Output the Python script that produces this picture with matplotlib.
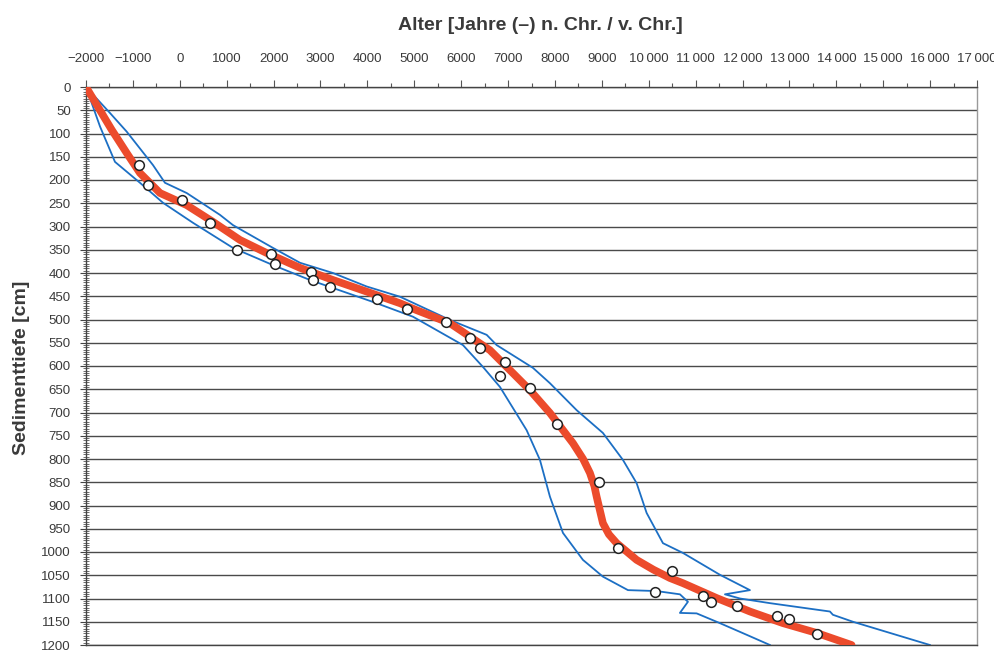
import matplotlib

matplotlib.use("Agg")
import matplotlib.pyplot as plt
from matplotlib.ticker import FixedLocator, FuncFormatter, MultipleLocator

# Datierte Proben (Alter in Jahren, Tiefe in cm)
sample_age = [-870, -680, 50, 640, 1220, 1945, 2030, 2800, 2840, 3200, 4205, 4845,
              5675, 6190, 6400, 6935, 6825, 7465, 8045, 8940, 9345, 10495, 10130,
              11155, 11325, 11880, 12735, 12990, 13585]
sample_depth = [168, 211, 243, 292, 350, 359, 381, 398, 415, 430, 456, 477,
                505, 540, 561, 591, 621, 647, 725, 849, 991, 1041, 1086,
                1095, 1108, 1116, 1138, 1144, 1176]

# Altersmodell (rote Kurve)
model_age = [-2000, -1452, -1132, -849, -422, 147, 708, 1284, 1853, 2565, 3266, 3985,
             4695, 5051, 5761, 6188, 6614, 7041, 7467, 7893, 8384, 8600, 8746, 8840,
             8889, 9023, 9150, 9316, 9742, 10100, 10452, 10729, 11448, 12158, 12861,
             13580, 14326]
model_depth = [0, 92, 142, 185, 228, 254, 290, 329, 357, 389, 415, 440,
               465, 480, 508, 537, 566, 609, 652, 701, 766, 800, 830, 858,
               881, 938, 962, 981, 1017, 1038, 1056, 1067, 1099, 1128, 1153,
               1174, 1200]

# Vertrauensbereich, obere Grenze (aeltere Seite)
upper_age = [-2000, -1488, -1132, -571, -316, 147, 857, 1134, 1987, 2563, 3266, 3985,
             4695, 5761, 6544, 6757, 7531, 7893, 8463, 9023, 9450, 9742, 9955, 10303,
             10729, 11518, 12158, 11625, 11945, 12584, 13864, 13927, 14354, 15996]
upper_depth = [0, 56, 96, 168, 206, 228, 275, 297, 346, 378, 400, 429,
               451, 501, 533, 555, 604, 637, 695, 744, 802, 852, 916, 981,
               1002, 1049, 1082, 1091, 1100, 1110, 1128, 1135, 1150, 1200]

# Vertrauensbereich, untere Grenze (juengere Seite)
lower_age = [-2000, -1701, -1382, -849, -358, 281, 1134, 1987, 2776, 4198, 4972, 6038,
             6465, 6827, 7396, 7680, 7893, 8171, 8597, 9023, 9557, 10168, 10665, 10836,
             10665, 11021, 11518, 12087, 12584]
lower_depth = [0, 85, 161, 206, 249, 292, 346, 383, 415, 465, 494, 555,
               602, 645, 738, 802, 881, 959, 1017, 1053, 1082, 1084, 1091, 1107,
               1131, 1132, 1153, 1178, 1200]

x_ticks = list(range(-2000, 17001, 1000))
y_ticks = list(range(0, 1201, 50))

RED = "#ec4b2c"
BLUE = "#1c6fc4"
TEXT = "#3a3a3a"


def age_label(v, _pos=None):
    v = int(round(v))
    s = f"{abs(v)}"
    if abs(v) >= 10000:
        s = s[:-3] + "\u2009" + s[-3:]
    return ("\u2212" + s) if v < 0 else s


def main() -> int:
    plt.rcParams["font.family"] = ["Liberation Sans", "DejaVu Sans"]

    fig = plt.figure(figsize=(9.95, 6.5), dpi=100)
    ax = fig.add_axes([86 / 995, 1 - 645 / 650, (977 - 86) / 995, (645 - 87) / 650])

    for y in y_ticks:
        ax.axhline(y, color="#4a4a4a", linewidth=1.0, zorder=1)

    ax.plot(lower_age, lower_depth, color=BLUE, linewidth=1.3, zorder=2)
    ax.plot(upper_age, upper_depth, color=BLUE, linewidth=1.3, zorder=2)
    ax.plot(model_age, model_depth, color=RED, linewidth=5.5, solid_capstyle="round",
            solid_joinstyle="round", zorder=3)
    ax.plot(sample_age, sample_depth, linestyle="none", marker="o", markersize=7,
            markerfacecolor="white", markeredgecolor="#222222", markeredgewidth=1.1, zorder=4)

    ax.set_xlim(-2000, 17000)
    ax.set_ylim(1200, 0)

    ax.xaxis.tick_top()
    ax.xaxis.set_major_locator(FixedLocator(x_ticks))
    ax.xaxis.set_minor_locator(MultipleLocator(500))
    ax.xaxis.set_major_formatter(FuncFormatter(age_label))
    ax.tick_params(axis="x", which="major", direction="out", length=5, width=0.8,
                   color="#555555", labelsize=9.5, labelcolor=TEXT, pad=11)
    ax.tick_params(axis="x", which="minor", direction="out", length=3, width=0.8,
                   color="#555555")

    ax.yaxis.set_major_locator(FixedLocator(y_ticks))
    ax.yaxis.set_minor_locator(MultipleLocator(5))
    ax.tick_params(axis="y", which="major", direction="out", length=4, width=0.8,
                   color="#444444", labelsize=9.5, labelcolor=TEXT, pad=7)
    ax.tick_params(axis="y", which="minor", direction="inout", length=4, width=0.6,
                   color="#555555")

    for side in ["top", "left", "bottom"]:
        ax.spines[side].set_color("#444444")
        ax.spines[side].set_linewidth(1.0)
    ax.spines["right"].set_color("#9a9a9a")
    ax.spines["right"].set_linewidth(1.0)

    fig.text(540 / 995, 1 - 25 / 650, "Alter [Jahre (\u2013) n. Chr. / v. Chr.]",
             ha="center", va="center", fontsize=14, fontweight="bold", color=TEXT)
    fig.text(22 / 995, 1 - 368 / 650, "Sedimenttiefe [cm]", ha="center", va="center",
             rotation=90, fontsize=14, fontweight="bold", color=TEXT)

    fig.savefig("out.png", dpi=100)
    plt.close(fig)
    return 0


if __name__ == "__main__":
    raise SystemExit(main())
